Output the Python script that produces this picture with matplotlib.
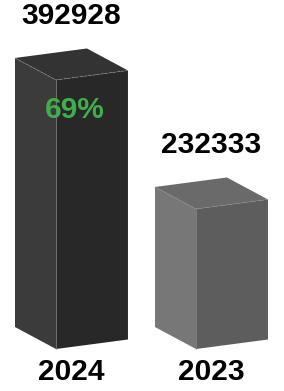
import matplotlib
matplotlib.use("Agg")
import numpy as np
from matplotlib import pyplot as plt
from matplotlib.patches import Polygon

# data
years = ["2024", "2023"]
values = np.array([392928, 232333])
growth = (values[0] - values[1]) / values[1] * 100

# style
face_left = ["#3b3b3b", "#777777"]
face_right = ["#282828", "#5d5d5d"]
face_top = ["#333333", "#6a6a6a"]
BASE = 58000          # where the boxes stand on the value axis
DEPTH_L = 0.293       # width of the left (side) face in x units
WIDTH_R = 0.514       # width of the right (front) face in x units

W, H = 284, 391
fig = plt.figure(figsize=(W / 100, H / 100), dpi=100)
ax = fig.add_axes([0, 0, 1, 1])
ax.set_xlim(-0.4, -0.4 + W / 140)
ymin, ymax = 5710, 492500
ax.set_ylim(ymin, ymax)
ax.axis("off")

upp = (ymax - ymin) / H   # value units per pixel
left_up = 22 * upp
right_up = 9.5 * upp

plt.rcParams["font.family"] = ["Liberation Sans", "DejaVu Sans"]

x = np.arange(len(values))
for i, (xi, v) in enumerate(zip(x, values)):
    left = [(xi - DEPTH_L, BASE + left_up), (xi, BASE), (xi, v), (xi - DEPTH_L, v + left_up)]
    right = [(xi, BASE), (xi + WIDTH_R, BASE + right_up), (xi + WIDTH_R, v + right_up), (xi, v)]
    top = [(xi, v), (xi - DEPTH_L, v + left_up),
           (xi - DEPTH_L + WIDTH_R, v + left_up + right_up), (xi + WIDTH_R, v + right_up)]
    ax.add_patch(Polygon(left, closed=True, facecolor=face_left[i], edgecolor="none"))
    ax.add_patch(Polygon(right, closed=True, facecolor=face_right[i], edgecolor="none"))
    ax.add_patch(Polygon(top, closed=True, facecolor=face_top[i], edgecolor="none"))
    # light front edges
    ax.plot([xi, xi], [BASE, v], color="#8a8a8a", lw=0.5)
    ax.plot([xi - DEPTH_L, xi, xi + WIDTH_R], [v + left_up, v, v + right_up],
            color="#8a8a8a", lw=0.5, ls=(0, (4, 2)))

    cx = xi + (WIDTH_R - DEPTH_L) / 2
    ax.annotate(f"{v}", xy=(cx, v), xytext=(0, 64), textcoords="offset pixels",
                ha="center", va="center", fontsize=21.5, fontweight="bold", color="black")
    ax.annotate(years[i], xy=(cx, BASE), xytext=(0, -23), textcoords="offset pixels",
                ha="center", va="center", fontsize=21.5, fontweight="bold", color="black")

ax.annotate(f"{growth:.0f}%", xy=(x[0], values[0]), xytext=(19, -30),
            textcoords="offset pixels", ha="center", va="center",
            fontsize=21.5, fontweight="bold", color="#40ae4a")

fig.savefig("out.png", dpi=100)
